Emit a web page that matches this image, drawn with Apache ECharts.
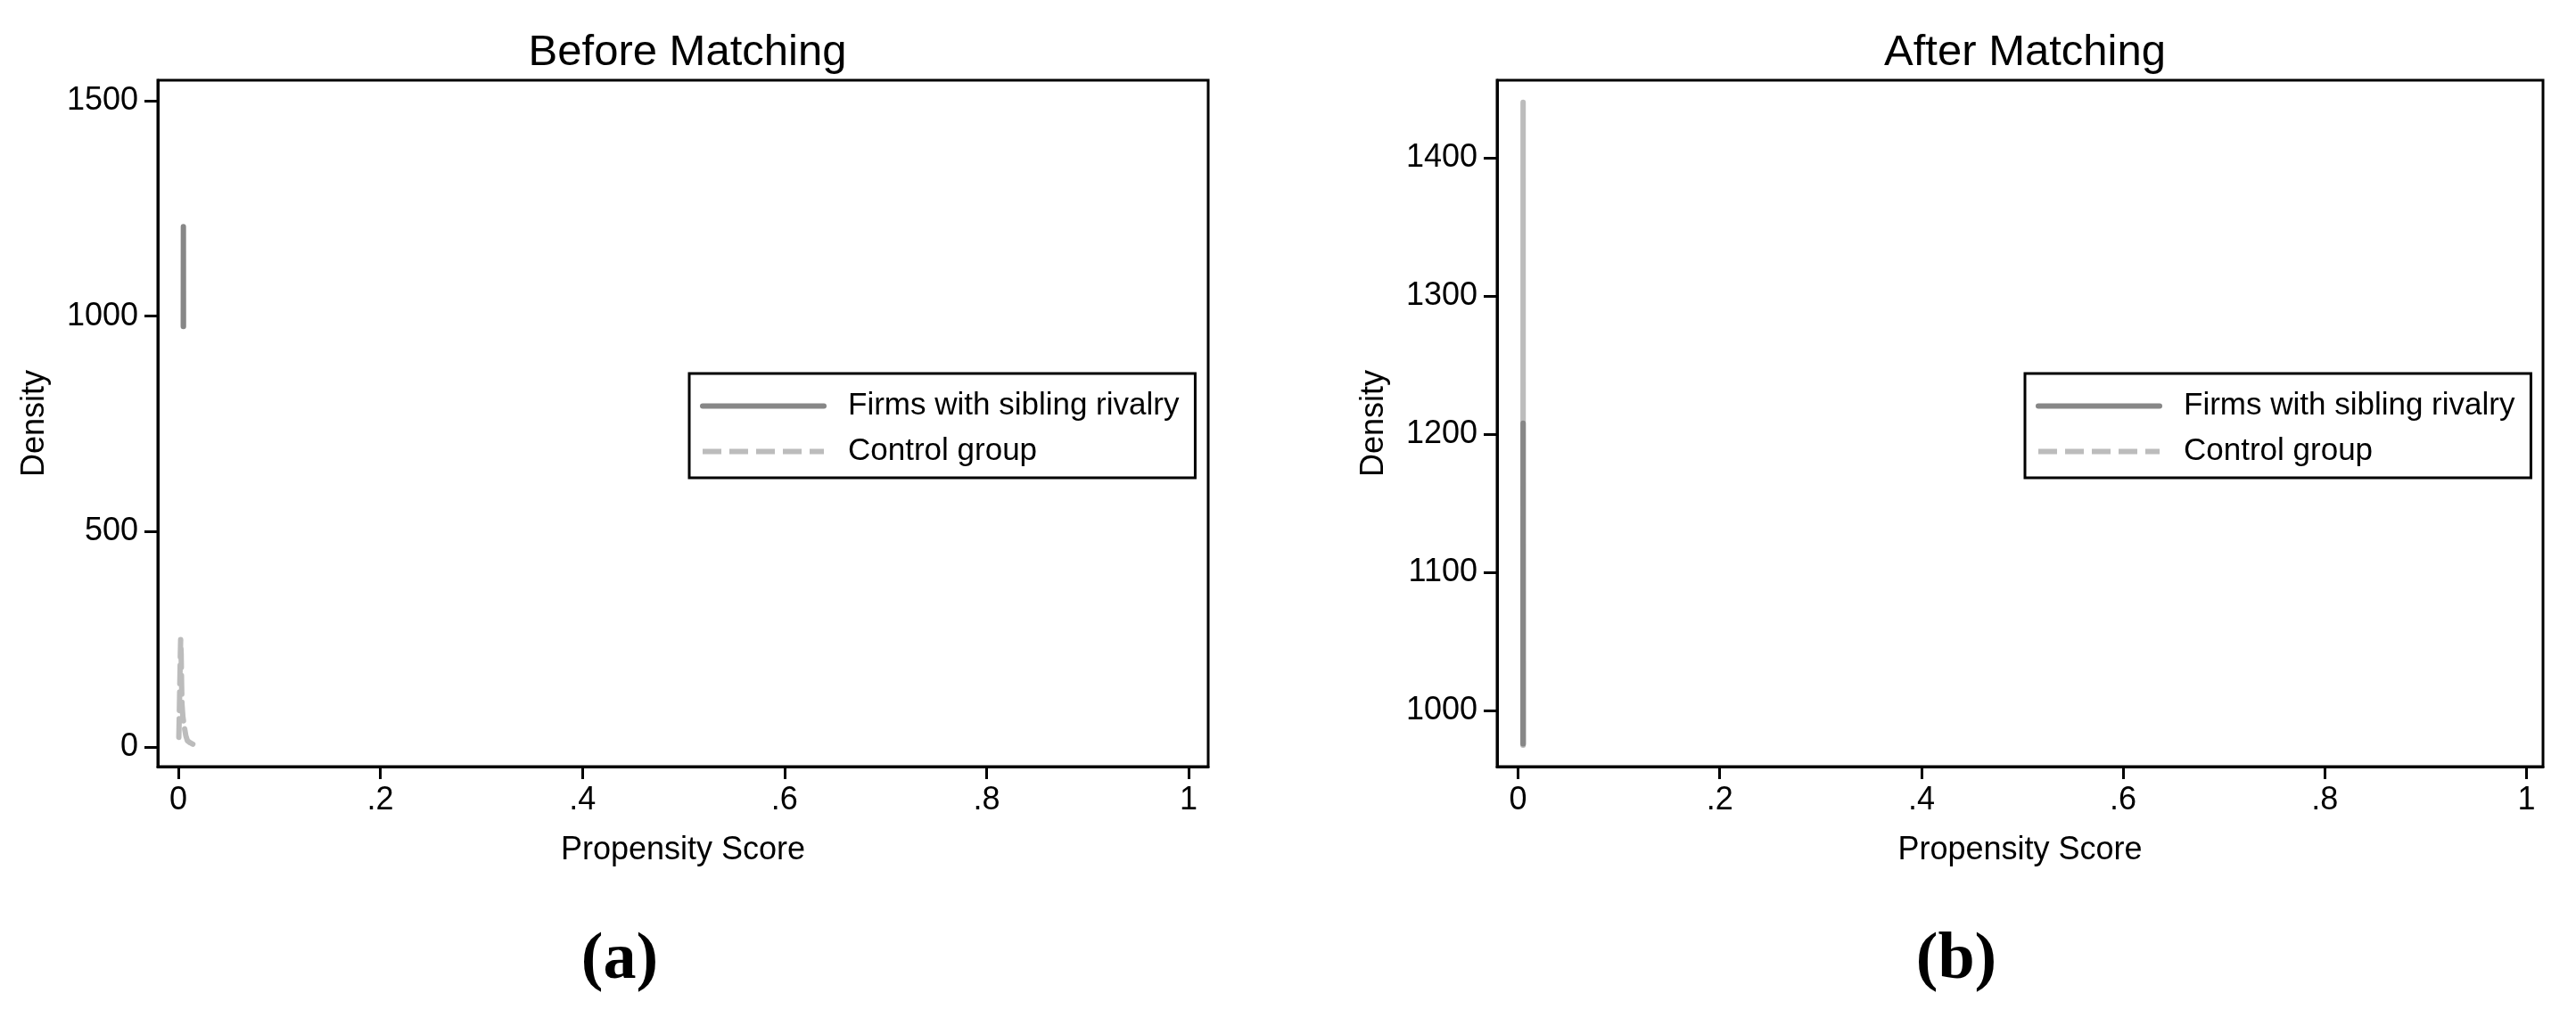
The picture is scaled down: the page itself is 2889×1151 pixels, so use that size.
<!DOCTYPE html>
<html>
<head>
<meta charset="utf-8">
<script src="https://cdn.jsdelivr.net/npm/echarts@6/dist/echarts.min.js"></script>
<style>
html,body{margin:0;padding:0;background:#fff;}
#chart{width:2889px;height:1151px;}
</style>
</head>
<body>
<div id="chart"></div>
<script>
// ---- data ----
const xTicks = [0, 0.2, 0.4, 0.6, 0.8, 1];
const yTicksBefore = [0, 500, 1000, 1500];
const yTicksAfter = [1000, 1100, 1200, 1300, 1400];

// Firms with sibling rivalry (treated) – nearly vertical density at x≈0.005
const treatedX = [0.0049, 0.0050, 0.0051];
const treatedY = [976, 1208, 976];

// Control group before matching
const controlBeforeX = [0.0005, 0.0010, 0.0015, 0.0020, 0.0023, 0.0028, 0.0032, 0.0036, 0.0045, 0.0060, 0.0075, 0.0090, 0.0120, 0.0160, 0.0206];
const controlBeforeY = [22, 80, 150, 215, 249, 215, 150, 100, 70, 45, 25, 14, 9, 4, 1];

// Control group after matching
const controlAfterX = [0.0049, 0.0050, 0.0051];
const controlAfterY = [975, 1440, 975];

const seriesNames = ['Firms with sibling rivalry', 'Control group'];
const panelTitles = ['Before Matching', 'After Matching'];
const panelTags = ['(a)', '(b)'];

const pair = (xs, ys) => xs.map((x, i) => [x, ys[i]]);
const fmtX = v => { if (v === 0) return '0'; if (v === 1) return '1'; return String(+v.toFixed(1)).replace(/^0/, ''); };
const fmtY = v => String(v);

const FONT = 'Liberation Sans, Arial, sans-serif';
const DARK = '#878787', LIGHT = '#bcbcbc';
const LW = 6;

function xAxis(gi, min, max) {
  return {
    type: 'value', gridIndex: gi, min: min, max: max,
    axisLine: { show: true, onZero: false, lineStyle: { color: '#000', width: 3 } },
    axisTick: { show: true, customValues: xTicks, length: 14, lineStyle: { color: '#000', width: 3 } },
    axisLabel: { customValues: xTicks, formatter: fmtX, fontSize: 36, color: '#000', fontFamily: FONT, margin: 20 },
    splitLine: { show: false },
    name: 'Propensity Score', nameLocation: 'middle', nameGap: 76,
    nameTextStyle: { fontSize: 36, color: '#000', fontFamily: FONT }
  };
}
function yAxis(gi, min, max, ticks) {
  return {
    type: 'value', gridIndex: gi, min: min, max: max,
    axisLine: { show: true, onZero: false, lineStyle: { color: '#000', width: 3 } },
    axisTick: { show: true, customValues: ticks, length: 15, lineStyle: { color: '#000', width: 3 } },
    axisLabel: { customValues: ticks, formatter: fmtY, fontSize: 36, color: '#000', fontFamily: FONT, margin: 22 },
    splitLine: { show: false },
    name: 'Density', nameLocation: 'middle', nameGap: 120,
    nameTextStyle: { fontSize: 36, color: '#000', fontFamily: FONT }
  };
}
function legend(left) {
  return {
    orient: 'vertical', left: left, top: 419,
    padding: [19, 18, 12, 12],
    itemWidth: 136, itemHeight: 14, itemGap: 16,
    borderColor: '#000', borderWidth: 3, backgroundColor: '#fff',
    textStyle: { fontSize: 35, color: '#000', fontFamily: FONT, padding: [0, 0, 0, 22] },
    selectedMode: false,
    itemStyle: { opacity: 0, borderWidth: 0 },
    data: [
      { name: seriesNames[0], itemStyle: { opacity: 0, borderWidth: 0 }, lineStyle: { color: DARK, width: LW, type: 'solid', cap: 'round' } },
      { name: seriesNames[1], itemStyle: { opacity: 0, borderWidth: 0 }, lineStyle: { color: LIGHT, width: LW, type: [21, 9], cap: 'butt' } }
    ]
  };
}
function line(name, xi, data, color, type, z) {
  return {
    type: 'line', name: name, xAxisIndex: xi, yAxisIndex: xi, data: data,
    symbol: 'none', showSymbol: false, silent: true, animation: false, z: z,
    itemStyle: { color: color },
    lineStyle: { color: color, width: LW, type: type, cap: 'round', join: 'round' }
  };
}

const option = {
  backgroundColor: '#fff',
  animation: false,
  title: [
    { text: panelTitles[0], left: 766, top: 30, textAlign: 'center', textStyle: { fontSize: 49, fontWeight: 'normal', color: '#000', fontFamily: FONT } },
    { text: panelTitles[1], left: 2266, top: 30, textAlign: 'center', textStyle: { fontSize: 49, fontWeight: 'normal', color: '#000', fontFamily: FONT } },
    { text: panelTags[0], left: 690, top: 1036, textAlign: 'center', textStyle: { fontSize: 74, fontWeight: 'bold', color: '#000', fontFamily: 'Liberation Serif, serif' } },
    { text: panelTags[1], left: 2189, top: 1036, textAlign: 'center', textStyle: { fontSize: 74, fontWeight: 'bold', color: '#000', fontFamily: 'Liberation Serif, serif' } }
  ],
  legend: [legend(773), legend(2271)],
  grid: [
    { left: 177, top: 90, width: 1178, height: 770, show: true, borderColor: '#000', borderWidth: 3, containLabel: false },
    { left: 1679, top: 90, width: 1173, height: 770, show: true, borderColor: '#000', borderWidth: 3, containLabel: false }
  ],
  xAxis: [xAxis(0, -0.0203, 1.0194), xAxis(1, -0.0208, 1.0164)],
  yAxis: [yAxis(0, -46, 1548, yTicksBefore), yAxis(1, 959.6, 1456, yTicksAfter)],
  series: [
    line(seriesNames[0], 0, pair(treatedX, treatedY), DARK, 'solid', 3),
    line(seriesNames[1], 0, pair(controlBeforeX, controlBeforeY), LIGHT, [21, 9], 2),
    line(seriesNames[1], 1, pair(controlAfterX, controlAfterY), LIGHT, 'solid', 2),
    line(seriesNames[0], 1, pair(treatedX, treatedY), DARK, 'solid', 3)
  ]
};
const chart = echarts.init(document.getElementById('chart'), null, { renderer: 'canvas' });
chart.setOption(option);
</script>
</body>
</html>
